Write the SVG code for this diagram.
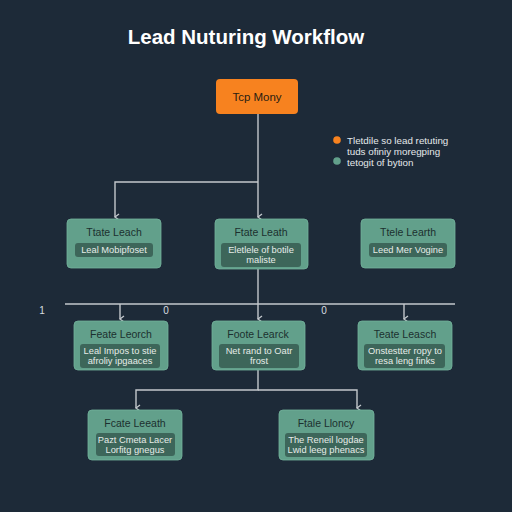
<svg xmlns="http://www.w3.org/2000/svg" width="512" height="512" viewBox="0 0 512 512">
<defs>
<style>
.bg{fill:#1d2a38}
.node{fill:#62a08b;stroke:#73b29c;stroke-width:0.8}
.inner{fill:#3d665a}
.title{font-family:"Liberation Sans",Arial,sans-serif;font-size:10.5px;fill:#1c302f;text-anchor:middle}
.lbl{font-family:"Liberation Sans",Arial,sans-serif;font-size:9.3px;fill:#e6ece8;text-anchor:middle}
.conn{fill:none;stroke:#c3c8cc;stroke-width:1.4}
.num{font-family:"Liberation Sans",Arial,sans-serif;font-size:10px;fill:#d8dde0;text-anchor:middle}
.leg{font-family:"Liberation Sans",Arial,sans-serif;font-size:9.8px;fill:#e4e8ea}
</style>
<marker id="arr" markerWidth="8" markerHeight="8" refX="4" refY="6" orient="auto" markerUnits="userSpaceOnUse" viewBox="0 0 8 8">
<path d="M1,2 L4,6 L7,2" fill="none" stroke="#c3c8cc" stroke-width="1.3"/>
</marker>
</defs>
<rect class="bg" x="0" y="0" width="512" height="512"/>
<text x="246" y="44" font-family="Liberation Sans,Arial,sans-serif" font-size="20.5" font-weight="bold" fill="#ffffff" text-anchor="middle">Lead Nuturing Workflow</text>

<g id="connectors">
<path class="conn" d="M258,114 V217" marker-end="url(#arr)"/>
<path class="conn" d="M258,182 H115 V217" marker-end="url(#arr)"/>
<path class="conn" d="M65,304 H455"/>
<path class="conn" d="M258,269 V319" marker-end="url(#arr)"/>
<path class="conn" d="M120,304 V319" marker-end="url(#arr)"/>
<path class="conn" d="M404,304 V319" marker-end="url(#arr)"/>
<path class="conn" d="M258,370 V390 H136 V408" marker-end="url(#arr)"/>
<path class="conn" d="M258,390 H357 V408" marker-end="url(#arr)"/>
</g>
<text class="num" x="42" y="314">1</text>
<text class="num" x="166" y="314">0</text>
<text class="num" x="324" y="314">0</text>

<g id="top">
<rect x="216" y="79" width="82" height="35" rx="4" fill="#f7821f"/>
<text x="257" y="101" font-family="Liberation Sans,Arial,sans-serif" font-size="11.5" fill="#2a1d12" text-anchor="middle">Tcp Mony</text>
</g>

<g id="legend">
<circle cx="337" cy="140" r="3.8" fill="#f7821f"/>
<text class="leg" x="347" y="143.5">Tletdile so lead retuting</text>
<text class="leg" x="347" y="154.5">tuds ofiniy moregping</text>
<circle cx="337" cy="161" r="3.8" fill="#62a08b"/>
<text class="leg" x="347" y="165.5">tetogit of bytion</text>
</g>

<g id="n1">
<rect class="node" x="67" y="219" width="94" height="49" rx="4"/>
<text class="title" x="114" y="236">Ttate Leach</text>
<rect class="inner" x="75" y="243" width="78" height="14" rx="3"/>
<text class="lbl" x="114" y="253">Leal Mobipfoset</text>
</g>
<g id="n2">
<rect class="node" x="215" y="219" width="93" height="50" rx="4"/>
<text class="title" x="261" y="236">Ftate Leath</text>
<rect class="inner" x="221" y="243" width="80" height="24" rx="3"/>
<text class="lbl" x="261" y="253">Eletlele of botile</text>
<text class="lbl" x="261" y="263">maliste</text>
</g>
<g id="n3">
<rect class="node" x="361" y="219" width="94" height="49" rx="4"/>
<text class="title" x="408" y="236">Ttele Learth</text>
<rect class="inner" x="369" y="243" width="78" height="14" rx="3"/>
<text class="lbl" x="408" y="253">Leed Mer Vogine</text>
</g>

<g id="n4">
<rect class="node" x="74" y="321" width="94" height="49" rx="4"/>
<text class="title" x="121" y="338">Feate Leorch</text>
<rect class="inner" x="80" y="344" width="80" height="24" rx="3"/>
<text class="lbl" x="120" y="354">Leal Impos to stie</text>
<text class="lbl" x="120" y="364">afroliy ipgaaces</text>
</g>
<g id="n5">
<rect class="node" x="212" y="321" width="93" height="49" rx="4"/>
<text class="title" x="258" y="338">Foote Learck</text>
<rect class="inner" x="219" y="344" width="80" height="24" rx="3"/>
<text class="lbl" x="259" y="354">Net rand to Oatr</text>
<text class="lbl" x="259" y="364">frost</text>
</g>
<g id="n6">
<rect class="node" x="358" y="321" width="94" height="49" rx="4"/>
<text class="title" x="405" y="338">Teate Leasch</text>
<rect class="inner" x="364" y="344" width="81" height="24" rx="3"/>
<text class="lbl" x="405" y="354">Onstestter ropy to</text>
<text class="lbl" x="405" y="364">resa leng finks</text>
</g>

<g id="n7">
<rect class="node" x="88" y="410" width="94" height="50" rx="4"/>
<text class="title" x="135" y="427">Fcate Leeath</text>
<rect class="inner" x="96" y="433" width="79" height="23" rx="3"/>
<text class="lbl" x="135" y="443">Pazt Cmeta Lacer</text>
<text class="lbl" x="135" y="453">Lorfitg gnegus</text>
</g>
<g id="n8">
<rect class="node" x="279" y="410" width="95" height="50" rx="4"/>
<text class="title" x="326" y="427">Ftale Lloncy</text>
<rect class="inner" x="285" y="433" width="82" height="24" rx="3"/>
<text class="lbl" x="326" y="443">The Reneil logdae</text>
<text class="lbl" x="326" y="453">Lwid leeg phenacs</text>
</g>
</svg>
